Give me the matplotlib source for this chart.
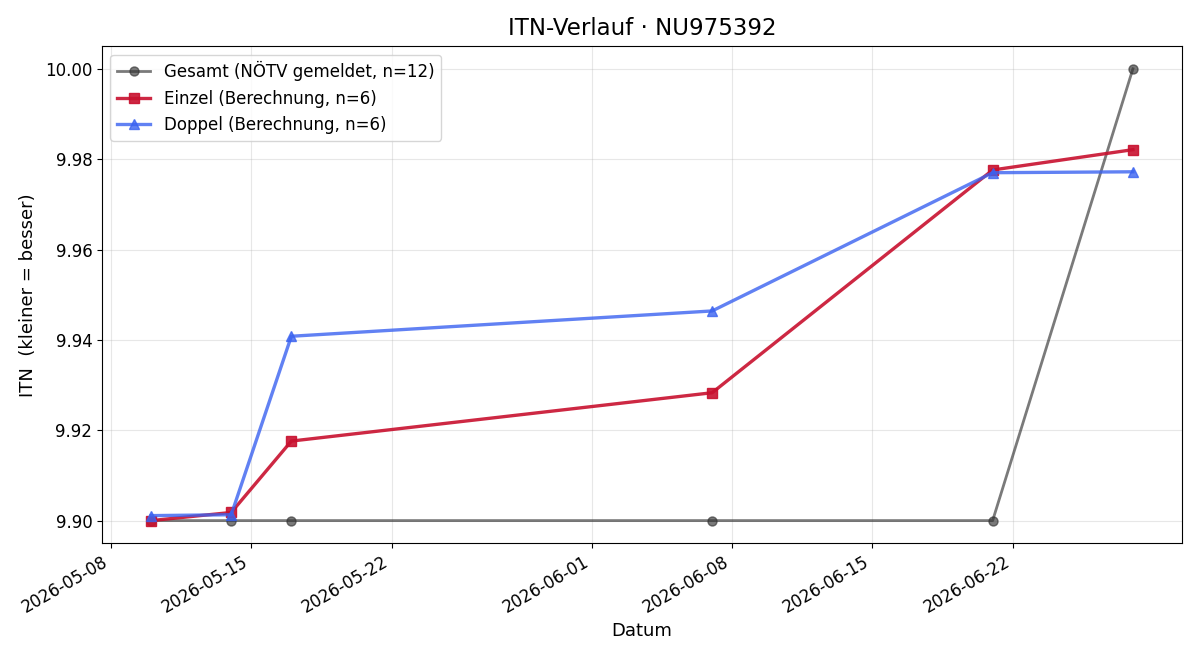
import matplotlib
matplotlib.use("Agg")
import matplotlib.pyplot as plt
import numpy as np

# Data
gesamt_dates = ["2026-05-10", "2026-05-14", "2026-05-17", "2026-06-07", "2026-06-21", "2026-06-28"]
gesamt_itn = [9.900, 9.900, 9.900, 9.900, 9.900, 10.000]

einzel_dates = ["2026-05-10", "2026-05-14", "2026-05-17", "2026-06-07", "2026-06-21", "2026-06-28"]
einzel_itn = [9.9000, 9.9018, 9.9176, 9.9283, 9.9776, 9.9821]

doppel_dates = ["2026-05-10", "2026-05-14", "2026-05-17", "2026-06-07", "2026-06-21", "2026-06-28"]
doppel_itn = [9.9011, 9.9013, 9.9408, 9.9464, 9.9770, 9.9772]


def to_dates(values):
    return np.array(values, dtype="datetime64[D]")


fig, ax = plt.subplots(figsize=(12, 6.6), dpi=100)

ax.plot(to_dates(gesamt_dates), gesamt_itn, marker="o", color="#333333", alpha=0.65,
        linewidth=2.0, markersize=6.5, label="Gesamt (NÖTV gemeldet, n=12)")
ax.plot(to_dates(einzel_dates), einzel_itn, marker="s", color="#c8102e", alpha=0.9,
        linewidth=2.4, markersize=7.5, label="Einzel (Berechnung, n=6)")
ax.plot(to_dates(doppel_dates), doppel_itn, marker="^", color="#3a62f0", alpha=0.8,
        linewidth=2.4, markersize=7.5, label="Doppel (Berechnung, n=6)")

ax.set_title("ITN-Verlauf · NU975392", fontsize=16.5, pad=8)
ax.set_xlabel("Datum", fontsize=13)
ax.set_ylabel("ITN  (kleiner = besser)", fontsize=13, labelpad=6)
ax.tick_params(labelsize=12)
ax.grid(True, alpha=0.3)
ax.legend(loc="upper left", fontsize=12)
fig.autofmt_xdate()

fig.subplots_adjust(left=0.085, right=0.985, top=0.930, bottom=0.177)
fig.savefig("out.png", dpi=100)
